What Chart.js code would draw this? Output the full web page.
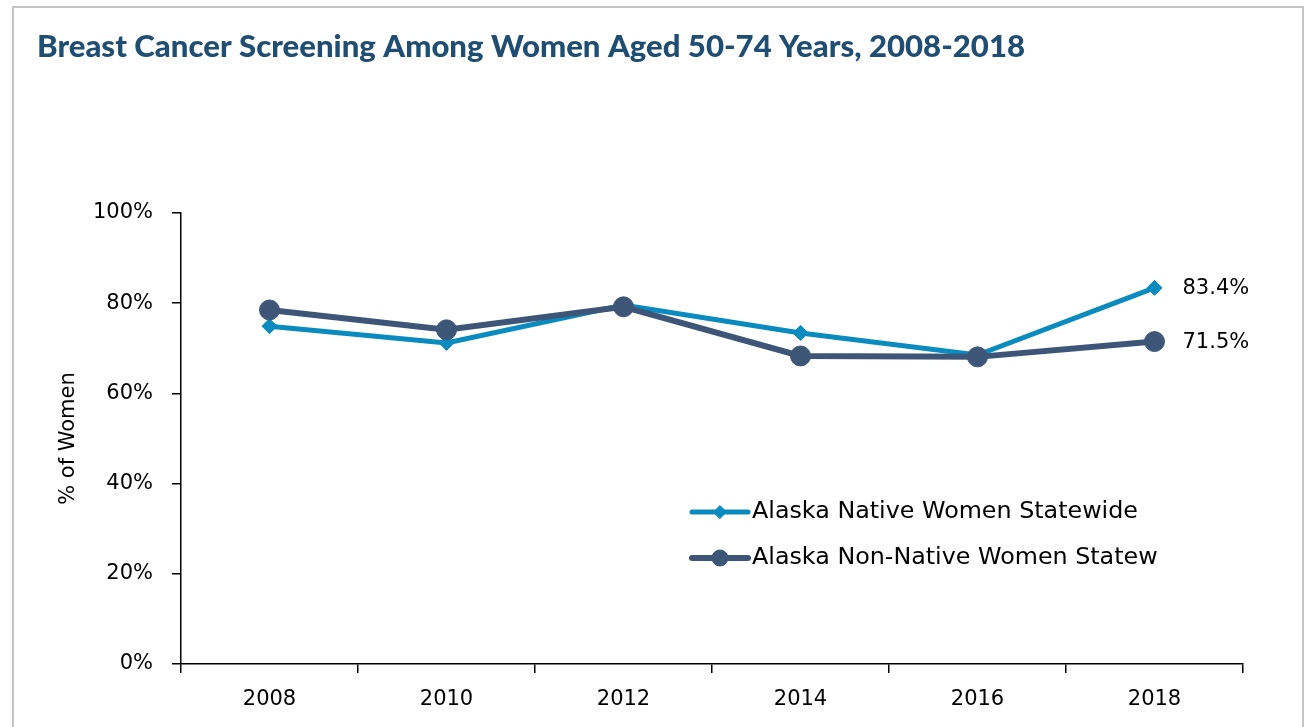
<!DOCTYPE html>
<html>
<head>
<meta charset="utf-8">
<script src="https://cdn.jsdelivr.net/npm/chart.js@4.4.1/dist/chart.umd.min.js"></script>
<style>
  html, body { margin: 0; padding: 0; background: #fff; }
  #wrap { position: relative; width: 1307px; height: 727px; overflow: hidden; }
  #frame { position: absolute; left: 12px; top: 6px; width: 1292px; height: 760px; border: 2px solid #c4c4c4; box-sizing: border-box; }
  canvas { position: absolute; left: 0; top: 0; }
</style>
</head>
<body>
<div id="wrap">
  <div id="frame"></div>
  <canvas id="c" width="1307" height="727"></canvas>
</div>
<script>
const titleText = "Breast Cancer Screening Among Women Aged 50-74 Years, 2008-2018";
const categories = ["2008", "2010", "2012", "2014", "2016", "2018"];
const nativeLabel = "Alaska Native Women Statewide";
const nonNativeLabel = "Alaska Non-Native Women Statew";
const nativeValues = [74.9, 71.2, 79.6, 73.4, 68.5, 83.4];
const nonNativeValues = [78.5, 74.1, 79.2, 68.3, 68.1, 71.5];
const yTicks = [0, 20, 40, 60, 80, 100];
const yAxisTitle = "% of Women";

const CYAN = "#0A8BC0";
const SLATE = "#3D5678";
const TEXT_FONT = "'DejaVu Sans', sans-serif";

const overlayPlugin = {
  id: "overlay",
  afterDraw(chart) {
    const ctx = chart.ctx;
    ctx.save();
    // Title (stretched horizontally to match the reference's condensed bold face)
    ctx.fillStyle = "#1F4E72";
    ctx.font = "900 30px Lato, sans-serif";
    ctx.textAlign = "left";
    ctx.textBaseline = "alphabetic";
    const w = ctx.measureText(titleText).width;
    const sx = 988 / w;
    ctx.save();
    ctx.translate(37, 57);
    ctx.scale(sx, 1);
    ctx.fillText(titleText, 0, 0);
    ctx.restore();

    // End-point value labels
    ctx.fillStyle = "#000";
    ctx.font = "21px " + TEXT_FONT;
    ctx.textBaseline = "middle";
    chart.data.datasets.forEach((ds, i) => {
      const meta = chart.getDatasetMeta(i);
      const last = meta.data.length - 1;
      const pt = meta.data[last];
      ctx.fillText(ds.data[last].toFixed(1) + "%", pt.x + 28, pt.y + 1);
    });

    // Legend inside plot area
    const legendX = 692, lineLen = 56, legendY = [512, 558];
    const legendRadius = [6.5, 8];
    chart.data.datasets.forEach((ds, i) => {
      const y = legendY[i];
      ctx.strokeStyle = ds.borderColor;
      ctx.lineWidth = ds.borderWidth;
      ctx.lineCap = "round";
      ctx.beginPath();
      ctx.moveTo(legendX, y);
      ctx.lineTo(legendX + lineLen, y);
      ctx.stroke();
      ctx.fillStyle = ds.pointBackgroundColor;
      ctx.strokeStyle = ds.pointBorderColor;
      ctx.lineWidth = 1;
      Chart.helpers.drawPoint(ctx, {
        pointStyle: ds.pointStyle,
        radius: legendRadius[i],
        rotation: 0,
        borderWidth: 1
      }, legendX + lineLen / 2, y);
      ctx.fillStyle = "#000";
      ctx.font = "23.8px " + TEXT_FONT;
      ctx.textBaseline = "middle";
      ctx.textAlign = "left";
      ctx.fillText(ds.label, legendX + lineLen + 4, y);
    });
    ctx.restore();
  }
};

new Chart(document.getElementById("c"), {
  type: "line",
  data: {
    labels: categories,
    datasets: [
      {
        label: nativeLabel,
        data: nativeValues,
        borderColor: CYAN,
        backgroundColor: CYAN,
        pointBackgroundColor: CYAN,
        pointBorderColor: CYAN,
        borderWidth: 5,
        pointStyle: "rectRot",
        pointRadius: 7.5,
        pointBorderWidth: 1,
        tension: 0,
        order: 1
      },
      {
        label: nonNativeLabel,
        data: nonNativeValues,
        borderColor: SLATE,
        backgroundColor: SLATE,
        pointBackgroundColor: SLATE,
        pointBorderColor: SLATE,
        borderWidth: 6,
        pointStyle: "circle",
        pointRadius: 10,
        pointBorderWidth: 1,
        tension: 0,
        order: 0
      }
    ]
  },
  options: {
    responsive: false,
    animation: false,
    layout: { padding: { left: 48, right: 64, top: 213, bottom: 19 } },
    plugins: {
      legend: { display: false },
      title: { display: false },
      tooltip: { enabled: false }
    },
    scales: {
      x: {
        type: "category",
        offset: true,
        grid: { display: true, drawOnChartArea: false, offset: true, tickLength: 9, color: "#000", lineWidth: 1.5 },
        border: { display: true, color: "#000", width: 1.5 },
        ticks: { color: "#000", font: { family: TEXT_FONT, size: 21 }, padding: 14, maxRotation: 0 },
        afterFit(s) { s.height = 44; }
      },
      y: {
        min: 0,
        max: 100,
        afterBuildTicks(s) { s.ticks = yTicks.map(v => ({ value: v })); },
        grid: { display: true, drawOnChartArea: false, tickLength: 9, color: "#000", lineWidth: 1.5 },
        border: { display: true, color: "#000", width: 1.5 },
        ticks: { color: "#000", font: { family: TEXT_FONT, size: 21 }, padding: 19, callback: v => v + "%" },
        title: { display: true, text: yAxisTitle, color: "#000", font: { family: TEXT_FONT, size: 21 }, padding: { top: 8, bottom: 0 } },
        afterFit(s) { s.width = 133; }
      }
    }
  },
  plugins: [overlayPlugin]
});
</script>
</body>
</html>
